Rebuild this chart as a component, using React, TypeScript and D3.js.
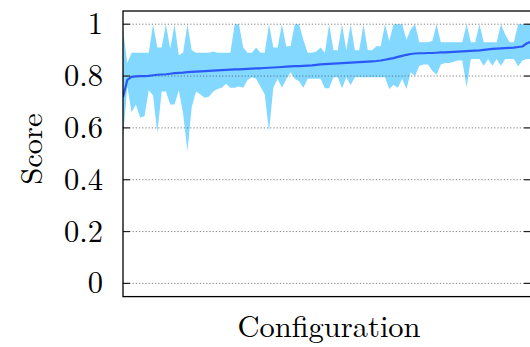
import React from "react";
import * as d3 from "d3";

// configurations are sorted by mean score; band = min..max over runs
const meanScore = [
  0.718, 0.785, 0.797, 0.799, 0.8, 0.8, 0.801, 0.803, 0.805, 0.806,
  0.807, 0.809, 0.811, 0.812, 0.813, 0.815, 0.816, 0.817, 0.818, 0.819,
  0.82, 0.821, 0.822, 0.823, 0.824, 0.825, 0.826, 0.826, 0.827, 0.828,
  0.829, 0.83, 0.83, 0.831, 0.832, 0.833, 0.834, 0.835, 0.836, 0.837,
  0.838, 0.838, 0.839, 0.84, 0.841, 0.843, 0.845, 0.846, 0.847, 0.848,
  0.849, 0.85, 0.851, 0.852, 0.853, 0.854, 0.855, 0.856, 0.857, 0.858,
  0.86, 0.863, 0.866, 0.869, 0.874, 0.878, 0.882, 0.885, 0.887, 0.888,
  0.888, 0.889, 0.889, 0.89, 0.891, 0.891, 0.892, 0.893, 0.894, 0.895,
  0.896, 0.897, 0.898, 0.899, 0.901, 0.903, 0.905, 0.906, 0.907, 0.908,
  0.909, 0.91, 0.912, 0.914, 0.926, 0.932,
];

const maxScore = [
  0.98, 0.85, 0.89, 0.89, 0.89, 0.89, 0.89, 1.0, 0.91, 0.91,
  1.0, 0.905, 1.0, 0.88, 0.89, 1.0, 0.9, 0.89, 0.89, 0.89,
  0.89, 0.895, 0.89, 0.89, 0.89, 0.89, 1.0, 1.0, 0.91, 0.89,
  0.89, 0.91, 0.89, 0.89, 1.0, 0.91, 0.91, 1.0, 0.915, 0.915,
  1.0, 1.0, 0.94, 0.89, 0.89, 0.895, 0.91, 0.89, 1.0, 0.9,
  0.9, 1.0, 0.9, 1.0, 0.9, 0.9, 1.0, 0.9, 0.9, 0.915,
  0.915, 1.0, 0.935, 1.0, 1.0, 1.0, 0.94, 0.98, 1.0, 0.93,
  0.93, 0.93, 0.935, 1.0, 0.93, 0.93, 0.93, 0.93, 0.93, 0.93,
  1.0, 0.93, 0.93, 1.0, 0.93, 0.93, 0.93, 0.93, 1.0, 0.96,
  0.93, 0.93, 1.0, 1.0, 1.0, 1.0,
];

const minScore = [
  0.56, 0.76, 0.66, 0.69, 0.64, 0.645, 0.745, 0.725, 0.58, 0.74,
  0.74, 0.69, 0.69, 0.745, 0.655, 0.51, 0.68, 0.74, 0.73, 0.716,
  0.72, 0.74, 0.75, 0.755, 0.77, 0.755, 0.755, 0.76, 0.755, 0.785,
  0.795, 0.79, 0.76, 0.73, 0.585, 0.755, 0.79, 0.755, 0.787, 0.815,
  0.79, 0.78, 0.755, 0.79, 0.79, 0.79, 0.79, 0.753, 0.753, 0.795,
  0.795, 0.753, 0.795, 0.765, 0.795, 0.795, 0.795, 0.795, 0.795, 0.795,
  0.795, 0.795, 0.75, 0.765, 0.755, 0.79, 0.75, 0.815, 0.8, 0.84,
  0.845, 0.845, 0.82, 0.805, 0.845, 0.85, 0.85, 0.855, 0.86, 0.86,
  0.757, 0.866, 0.866, 0.866, 0.84, 0.866, 0.84, 0.866, 0.84, 0.866,
  0.866, 0.866, 0.838, 0.86, 0.866, 0.866,
];

const yTicks = [0, 0.2, 0.4, 0.6, 0.8, 1];
const yTickLabels = ["0", "0.2", "0.4", "0.6", "0.8", "1"];

const W = 530;
const H = 347;
const left = 123;
const right = 531;
const top = 11;
const bottom = 296.6;

const font = "Latin Modern Roman";

export default function App() {
  const idx = meanScore.map((_, i) => i);

  const x = d3.scaleLinear().domain([0, meanScore.length - 1]).range([left, right]);
  const y = d3.scaleLinear().domain([-0.051, 1.051]).range([bottom, top]);

  const band = d3
    .area<number>()
    .x((i) => x(i))
    .y0((i) => y(minScore[i]))
    .y1((i) => y(maxScore[i]));

  const line = d3
    .line<number>()
    .x((i) => x(i))
    .y((i) => y(meanScore[i]));

  const textStyle = { fontFamily: font, fontSize: 30.5, fill: "#000" };

  return (
    <svg
      width={W}
      height={H}
      style={{ position: "absolute", left: 0, top: 0, background: "#fff" }}
    >
      <defs>
        <clipPath id="plot">
          <rect x={left} y={top} width={right - left} height={bottom - top} />
        </clipPath>
      </defs>

      <g clipPath="url(#plot)">
        <path d={band(idx) ?? ""} fill="#82d8ff" stroke="none" />
      </g>

      {/* dotted grid */}
      {yTicks.map((t) => (
        <line
          key={"g" + t}
          x1={left}
          x2={right}
          y1={y(t)}
          y2={y(t)}
          stroke="#555"
          strokeOpacity={0.75}
          strokeWidth={1}
          strokeDasharray="1.2,2"
        />
      ))}

      <g clipPath="url(#plot)">
        <path
          d={line(idx) ?? ""}
          fill="none"
          stroke="#2b59f8"
          strokeWidth={2.2}
          strokeLinejoin="round"
        />
      </g>

      {/* ticks, both sides inward */}
      {yTicks.map((t) => (
        <g key={"t" + t} stroke="#222" strokeWidth={1.2}>
          <line x1={left} x2={left + 7} y1={y(t)} y2={y(t)} />
          <line x1={right - 7} x2={right} y1={y(t)} y2={y(t)} />
        </g>
      ))}

      <rect
        x={left}
        y={top}
        width={right - left}
        height={bottom - top}
        fill="none"
        stroke="#000"
        strokeWidth={1.3}
      />

      {yTicks.map((t, i) => (
        <text key={"l" + t} x={103} y={y(t) + 10} textAnchor="end" style={textStyle}>
          {yTickLabels[i]}
        </text>
      ))}

      <text transform="translate(41.5,149) rotate(-90)" textAnchor="middle" style={textStyle}>
        Score
      </text>

      <text x={329} y={337} textAnchor="middle" style={textStyle}>
        Configuration
      </text>
    </svg>
  );
}
